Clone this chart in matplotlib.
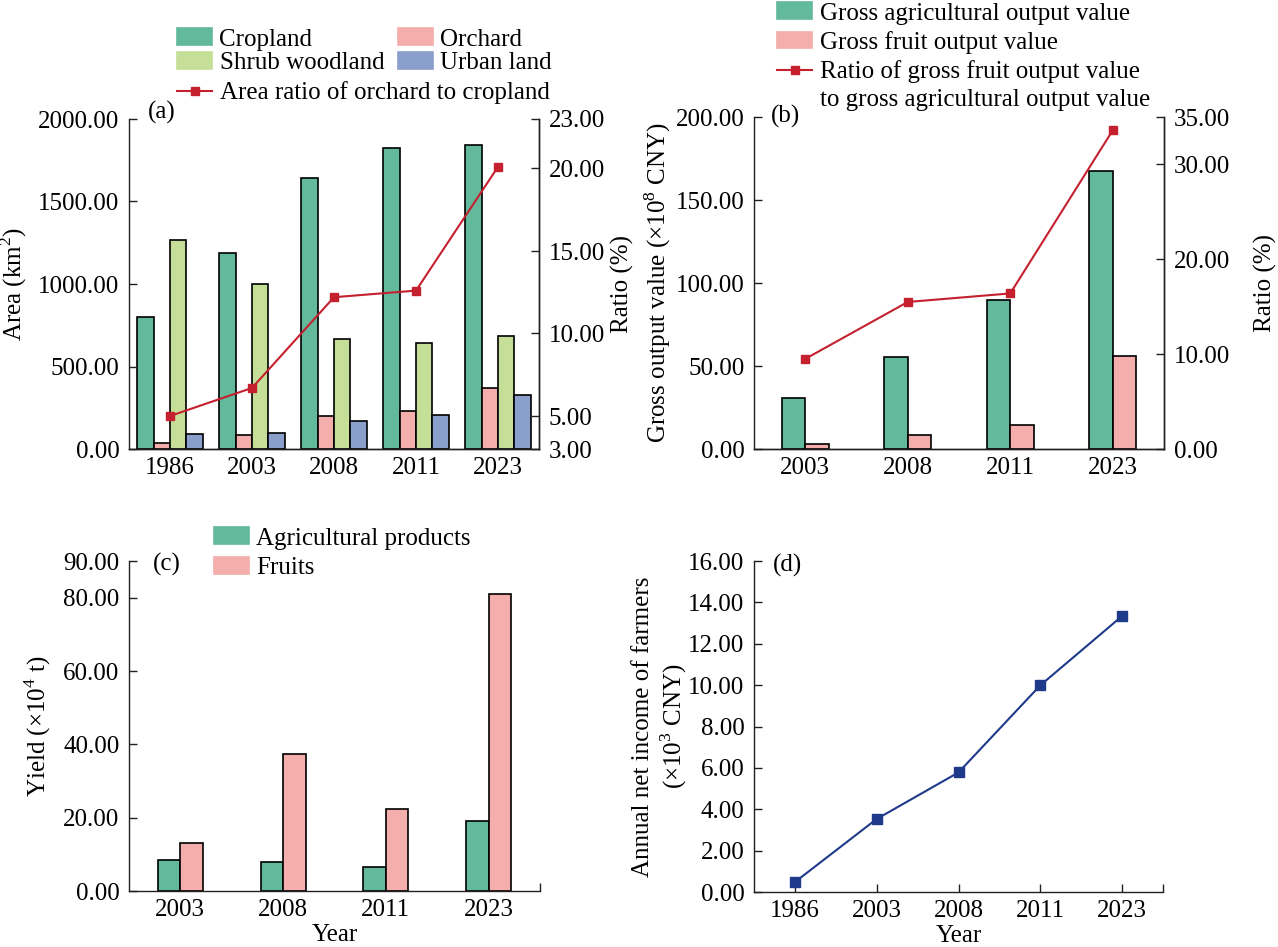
import matplotlib
matplotlib.use("Agg")
import matplotlib.pyplot as plt
import numpy as np
from matplotlib.lines import Line2D
from matplotlib.patches import Patch
from matplotlib.ticker import FormatStrFormatter

plt.rcParams["font.family"] = ["Liberation Serif", "DejaVu Serif"]
plt.rcParams["mathtext.fontset"] = "custom"
plt.rcParams["mathtext.rm"] = "Liberation Serif"
plt.rcParams["font.size"] = 18

# (a) land use area (km2) and ratio (%)
years_a = ["1986", "2003", "2008", "2011", "2023"]
cropland = [800, 1190, 1640, 1825, 1840]
orchard = [36, 82, 203, 233, 371]
shrub = [1267, 998, 665, 645, 685]
urban = [90, 96, 171, 209, 327]
area_ratio = [5.0, 6.7, 12.2, 12.6, 20.1]

# (b) gross output value (1e8 CNY) and ratio (%)
years_b = ["2003", "2008", "2011", "2023"]
agri_output = [31.0, 55.3, 89.9, 167.6]
fruit_output = [2.95, 8.5, 14.7, 56.1]
output_ratio = [9.5, 15.5, 16.4, 33.6]

# (c) yield (1e4 t)
years_c = ["2003", "2008", "2011", "2023"]
agri_yield = [8.5, 7.8, 6.45, 19.1]
fruit_yield = [13.0, 37.3, 22.25, 80.9]

# (d) annual net income of farmers (1e3 CNY)
years_d = ["1986", "2003", "2008", "2011", "2023"]
income = [0.48, 3.53, 5.78, 9.99, 13.34]

GREEN = "#62b99b"
PINK = "#f4aeab"
LIGHT = "#c6df98"
BLUE = "#8a9fcb"
RED = "#c4202e"
NAVY = "#1f3a8a"
INK = "#231f20"

W, H = 1278, 947
fig = plt.figure(figsize=(W / 100, H / 100), dpi=100)


def box(l, t, r, b):
    return [l / W, 1 - b / H, (r - l) / W, (b - t) / H]


def pt(x, y):
    return (x / W, 1 - y / H)


def style(ax, right=False):
    ax.spines["top"].set_visible(False)
    ax.spines["right"].set_visible(right)
    for s in ax.spines.values():
        s.set_color(INK)
        s.set_linewidth(1.0)
    ax.tick_params(axis="y", direction="in", length=6, width=1.0, color=INK, pad=7)
    ax.tick_params(axis="x", direction="in", length=0, pad=6)
    ax.yaxis.set_major_formatter(FormatStrFormatter("%.2f"))


def bar_kw(color):
    return dict(color=color, edgecolor="black", linewidth=1.2)


def ratio_handle():
    return Line2D([], [], color=RED, marker="s", ms=6, lw=1.5)


def legend(handles, labels, x, y, **kw):
    opts = dict(loc="upper left", bbox_to_anchor=pt(x, y), frameon=False,
                borderpad=0, borderaxespad=0, handlelength=1.4,
                handleheight=0.65, handletextpad=0.3, fontsize=18)
    opts.update(kw)
    return fig.legend(handles, labels, **opts)


# ---- (a)
ax = fig.add_axes(box(129, 119, 539, 449))
x = np.arange(len(years_a))
w = 0.2
ax.bar(x - 1.5 * w, cropland, w, **bar_kw(GREEN))
ax.bar(x - 0.5 * w, orchard, w, **bar_kw(PINK))
ax.bar(x + 0.5 * w, shrub, w, **bar_kw(LIGHT))
ax.bar(x + 1.5 * w, urban, w, **bar_kw(BLUE))
ax.set_xlim(-0.5, 4.5)
ax.set_ylim(0, 2000)
ax.set_yticks(np.arange(0, 2001, 500))
ax.set_xticks(x)
ax.set_xticklabels(years_a)
style(ax, right=True)
ax.set_ylabel("Area (km$^2$)")
ax.yaxis.set_label_coords(-0.245, 0.5)
ax.text(0.046, 1.021, "(a)", transform=ax.transAxes, ha="left", va="center")
ax2 = ax.twinx()
ax2.plot(x, area_ratio, color=RED, marker="s", ms=6, lw=1.5)
ax2.set_ylim(3, 23)
ax2.set_yticks([3, 5, 10, 15, 20, 23])
style(ax2, right=True)
ax2.spines["left"].set_visible(False)
ax2.set_ylabel("Ratio (%)")
ax2.yaxis.set_label_coords(1.175, 0.5)

legend([Patch(**bar_kw(GREEN)), Patch(**bar_kw(LIGHT)),
        Patch(**bar_kw(PINK)), Patch(**bar_kw(BLUE))],
       ["Cropland", "Shrub woodland", "Orchard", "Urban land"],
       177, 28.5, ncol=2, columnspacing=0.55, labelspacing=0.06)
legend([ratio_handle()], ["Area ratio of orchard to cropland"], 177, 81.5)

# ---- (b)
ax = fig.add_axes(box(754, 117, 1164, 449))
x = np.arange(len(years_b))
w = 0.23
ax.bar(x - w / 2, agri_output, w, **bar_kw(GREEN))
ax.bar(x + w / 2, fruit_output, w, **bar_kw(PINK))
ax.set_xlim(-0.5, 3.5)
ax.set_ylim(0, 200)
ax.set_yticks(np.arange(0, 201, 50))
ax.set_xticks(x)
ax.set_xticklabels(years_b)
style(ax, right=True)
ax.set_ylabel("Gross output value (×10$^{8}$ CNY)")
ax.yaxis.set_label_coords(-0.198, 0.5)
ax.text(0.041, 1.003, "(b)", transform=ax.transAxes, ha="left", va="center")
ax2 = ax.twinx()
ax2.plot(x, output_ratio, color=RED, marker="s", ms=6, lw=1.5)
ax2.set_ylim(0, 35)
ax2.set_yticks([0, 10, 20, 30, 35])
style(ax2, right=True)
ax2.spines["left"].set_visible(False)
ax2.set_ylabel("Ratio (%)")
ax2.yaxis.set_label_coords(1.22, 0.5)

legend([Patch(**bar_kw(GREEN)), Patch(**bar_kw(PINK)), ratio_handle(),
        Line2D([], [], alpha=0)],
       ["Gross agricultural output value", "Gross fruit output value",
        "Ratio of gross fruit output value",
        "to gross agricultural output value"],
       777, 2.5, labelspacing=0.25)

# ---- (c)
ax = fig.add_axes(box(129, 561, 540, 891))
x = np.arange(len(years_c))
w = 0.22
ax.bar(x - w / 2, agri_yield, w, **bar_kw(GREEN))
ax.bar(x + w / 2, fruit_yield, w, **bar_kw(PINK))
ax.set_xlim(-0.5, 3.5)
ax.set_ylim(0, 90)
ax.set_yticks([0, 20, 40, 60, 80, 90])
ax.set_xticks(x)
ax.set_xticklabels(years_c)
style(ax)
ax.set_xticks([3.5], minor=True)
ax.tick_params(axis="x", which="minor", direction="in", length=6, width=1.0, color=INK)
ax.set_ylabel("Yield (×10$^{4}$ t)")
ax.yaxis.set_label_coords(-0.185, 0.5)
ax.set_xlabel("Year")
ax.xaxis.set_label_coords(0.5, -0.1)
ax.text(0.058, 0.991, "(c)", transform=ax.transAxes, ha="left", va="center")

legend([Patch(**bar_kw(GREEN)), Patch(**bar_kw(PINK))],
       ["Agricultural products", "Fruits"], 214, 527.5, labelspacing=0.3)

# ---- (d)
ax = fig.add_axes(box(754, 561, 1163, 892))
x = np.arange(len(years_d))
ax.plot(x, income, color=NAVY, marker="s", ms=7, lw=1.5)
ax.set_xlim(-0.5, 4.5)
ax.set_ylim(0, 16)
ax.set_yticks(np.arange(0, 16.1, 2))
ax.set_xticks(x)
ax.set_xticklabels(years_d)
style(ax)
ax.set_xticks([4.5], minor=True)
ax.tick_params(axis="x", which="both", direction="in", length=6, width=1.0, color=INK)
ax.set_ylabel("Annual net income of farmers\n(×10$^{3}$ CNY)")
ax.yaxis.set_label_coords(-0.159, 0.5)
ax.set_xlabel("Year")
ax.xaxis.set_label_coords(0.5, -0.1)
ax.text(0.046, 0.988, "(d)", transform=ax.transAxes, ha="left", va="center")

fig.savefig("out.png", dpi=100)
